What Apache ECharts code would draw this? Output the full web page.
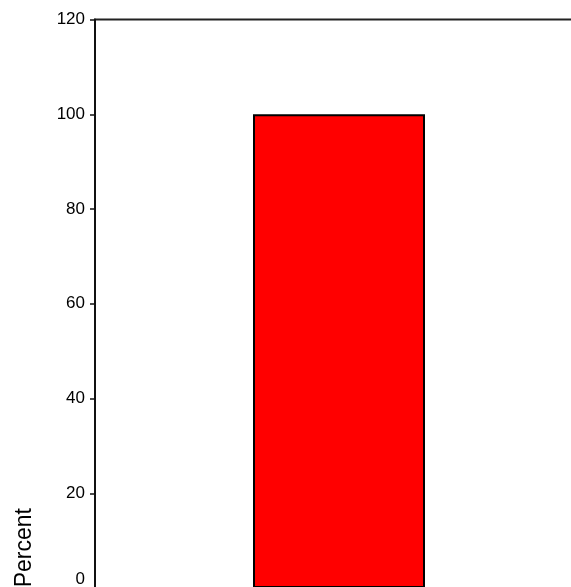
<!DOCTYPE html>
<html><head><meta charset="utf-8">
<script src="https://cdn.jsdelivr.net/npm/echarts@6/dist/echarts.min.js"></script>
<style>html,body{margin:0;padding:0;background:#fff}#c{width:571px;height:587px}</style>
</head><body><div id="c"></div>
<script>
var categories = ['A'];
var percentValues = [100];
var yTicks = [0, 20, 40, 60, 80, 100, 120];
var yAxisTitle = 'Percent';

var chart = echarts.init(document.getElementById('c'), null, {renderer: 'canvas'});
chart.setOption({
  animation: false,
  backgroundColor: '#fff',
  grid: {left: 95, top: 19.5, right: -12, bottom: -1, outerBoundsMode: 'none', containLabel: false,
         show: true, borderColor: '#222', borderWidth: 2, backgroundColor: 'transparent'},
  xAxis: {
    type: 'category', data: categories,
    axisLine: {show: false}, axisTick: {show: false}, axisLabel: {show: false}
  },
  yAxis: {
    type: 'value', min: yTicks[0], max: yTicks[yTicks.length - 1], interval: yTicks[1] - yTicks[0],
    splitLine: {show: false},
    axisLine: {show: true, lineStyle: {color: '#111', width: 2}},
    axisTick: {show: true, length: 5, lineStyle: {color: '#111', width: 1.5}},
    axisLabel: {
      color: '#000', fontFamily: 'Liberation Sans, Arial', fontSize: 17, margin: 10,
      formatter: function (v) { return v === 0 ? '{z|0}' : String(v); },
      rich: {z: {color: '#000', fontFamily: 'Liberation Sans, Arial', fontSize: 17, padding: [0, 0, 18, 0]}}
    }
  },
  graphic: [{
    type: 'text', rotation: Math.PI / 2, x: 36, y: 508,
    style: {text: yAxisTitle, fill: '#000', font: '23px "Liberation Sans", Arial', textAlign: 'right', textVerticalAlign: 'bottom'}
  }],
  series: [{
    type: 'bar', data: percentValues, barWidth: 172,
    itemStyle: {color: '#ff0000', borderColor: '#000', borderWidth: 2}
  }]
});
</script></body></html>
